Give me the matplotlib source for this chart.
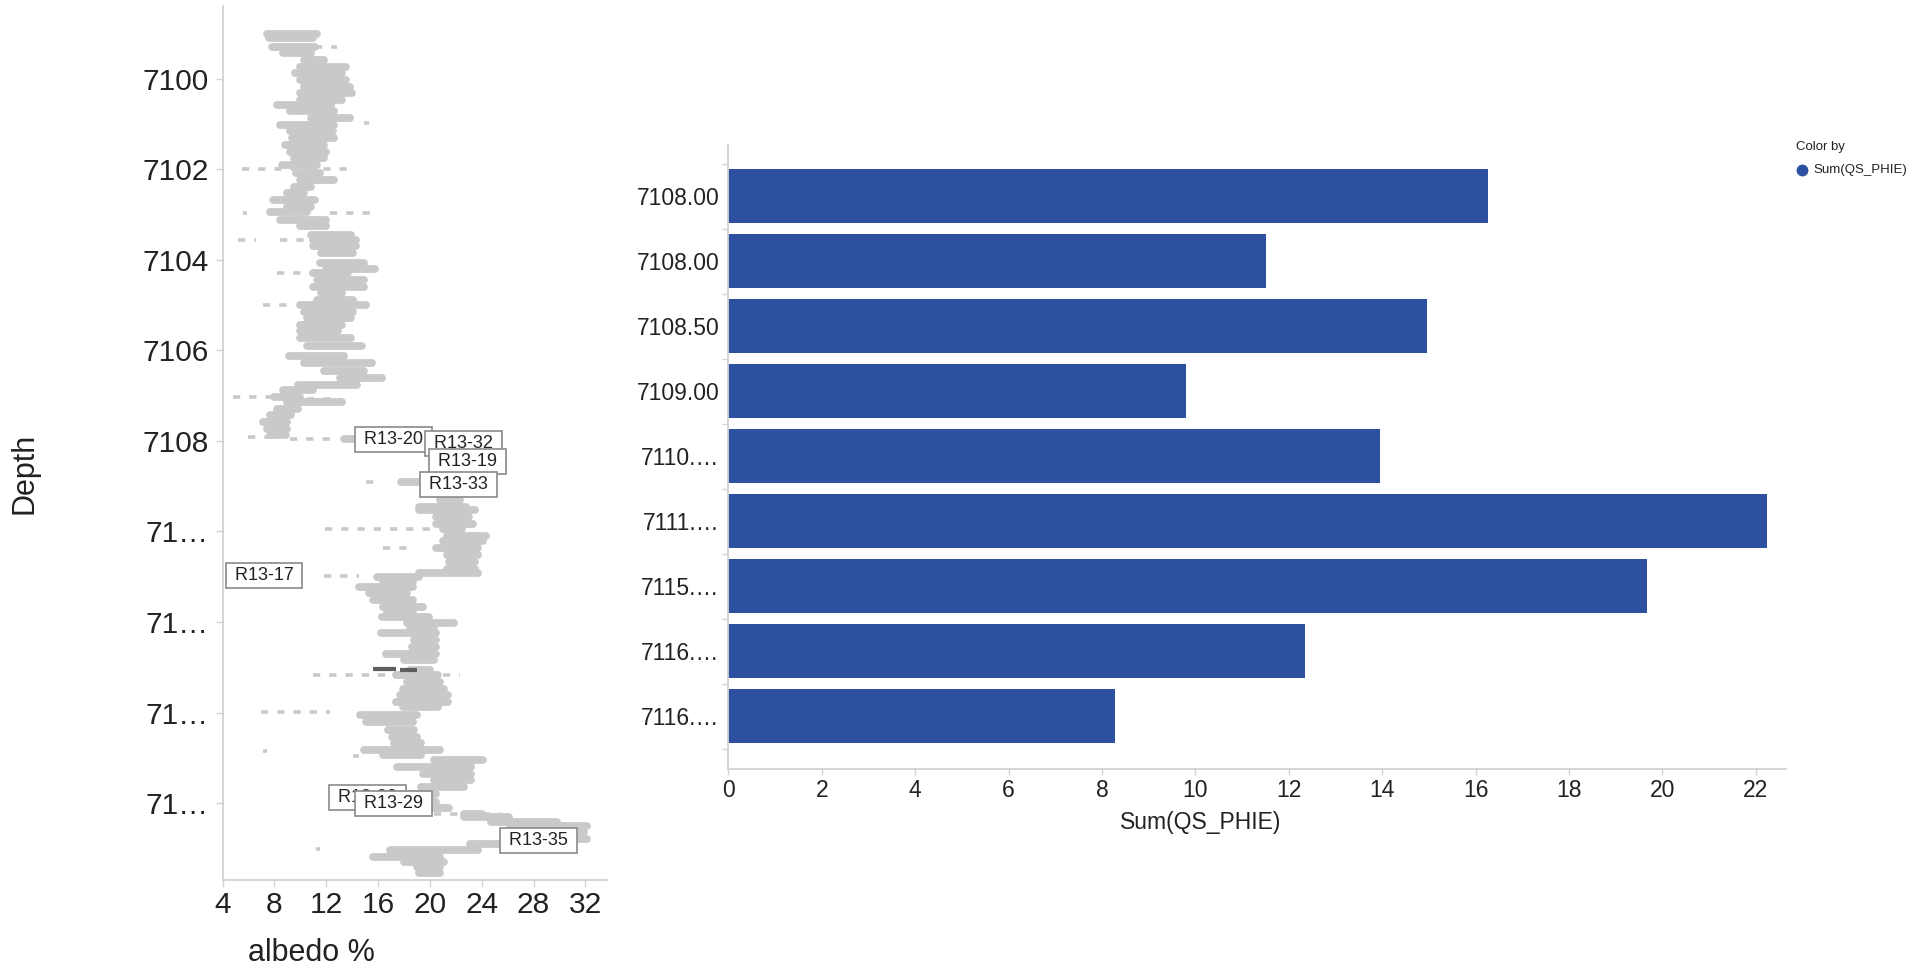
import numpy as np
import matplotlib.pyplot as plt
from matplotlib.lines import Line2D

plt.rcParams['font.family'] = ['Liberation Sans', 'DejaVu Sans']

# albedo log: depth, min and max albedo of each streak of points
log_depth = [7099.00, 7099.10, 7099.30, 7099.43, 7099.58, 7099.73, 7099.88, 7100.02, 7100.17, 7100.32,
             7100.46, 7100.57, 7100.72, 7100.87, 7101.02, 7101.16, 7101.31, 7101.46, 7101.61, 7101.75,
             7101.90, 7102.08, 7102.23, 7102.38, 7102.52, 7102.67, 7102.82, 7102.95, 7103.11, 7103.26,
             7103.44, 7103.56, 7103.70, 7103.85, 7104.06, 7104.19, 7104.30, 7104.45, 7104.60, 7104.74,
             7104.89, 7105.00, 7105.14, 7105.29, 7105.44, 7105.58, 7105.73, 7105.91, 7106.13, 7106.28,
             7106.46, 7106.61, 7106.76, 7106.87, 7107.02, 7107.14, 7107.29, 7107.43, 7107.58, 7107.73,
             7107.87, 7107.95, 7108.90, 7109.30, 7109.45, 7109.53, 7109.68, 7109.83, 7109.94, 7110.09,
             7110.20, 7110.36, 7110.53, 7110.68, 7110.83, 7110.92, 7111.00, 7111.11, 7111.22, 7111.37,
             7111.52, 7111.66, 7111.77, 7111.89, 7112.02, 7112.14, 7112.24, 7112.40, 7112.55, 7112.70,
             7112.85, 7113.05, 7113.17, 7113.32, 7113.47, 7113.61, 7113.76, 7113.87, 7114.06, 7114.20,
             7114.39, 7114.54, 7114.68, 7114.83, 7114.94, 7115.05, 7115.20, 7115.35, 7115.50, 7115.64,
             7115.79, 7115.98, 7116.12, 7116.24, 7116.31, 7116.42, 7116.50, 7116.64, 7116.79, 7116.90,
             7117.04, 7117.19, 7117.30, 7117.41, 7117.55]
log_lo = [7.4, 7.6, 7.8, 8.7, 10.3, 10.0, 9.6, 10.0, 10.3, 10.0,
          10.0, 8.2, 9.2, 10.8, 8.4, 9.2, 9.4, 8.8, 9.2, 9.5,
          8.6, 9.7, 10.0, 9.5, 9.0, 7.9, 9.0, 7.7, 8.4, 10.0,
          10.8, 11.0, 11.0, 11.6, 11.5, 12.0, 11.0, 11.3, 11.0, 11.6,
          11.3, 10.0, 10.3, 10.5, 10.0, 10.0, 10.0, 10.5, 9.1, 10.3,
          11.8, 13.1, 9.8, 8.7, 8.0, 9.0, 8.2, 7.7, 7.1, 7.4,
          7.7, 13.4, 17.8, 20.8, 19.2, 19.2, 20.5, 20.5, 21.0, 21.3,
          21.0, 20.5, 21.3, 21.5, 21.3, 19.2, 15.9, 16.4, 14.5, 15.3,
          15.6, 16.4, 16.7, 16.3, 18.2, 18.5, 16.2, 18.8, 18.6, 16.6,
          18.0, 18.5, 17.4, 18.2, 17.9, 17.7, 17.4, 17.9, 14.6, 15.1,
          16.8, 17.1, 17.2, 14.9, 16.4, 20.3, 17.5, 19.5, 20.3, 19.3,
          18.5, 19.0, 20.0, 22.6, 22.6, 24.7, 26.2, 29.8, 29.8, 23.1,
          16.9, 15.6, 18.0, 19.0, 19.2]
log_hi = [11.3, 11.0, 11.1, 10.8, 11.8, 13.5, 13.2, 13.5, 13.8, 14.0,
          13.2, 12.4, 12.6, 13.8, 12.6, 12.5, 12.6, 11.8, 12.0, 11.8,
          11.3, 11.5, 12.6, 10.8, 10.3, 11.1, 10.8, 10.5, 12.0, 12.0,
          13.9, 14.3, 14.3, 14.1, 14.9, 15.8, 13.7, 14.9, 14.9, 13.2,
          14.1, 15.1, 14.1, 13.9, 13.2, 12.9, 13.9, 14.8, 13.4, 15.5,
          14.9, 16.3, 14.4, 11.0, 10.0, 13.2, 9.8, 9.3, 9.0, 9.0,
          8.9, 14.2, 19.4, 22.3, 22.8, 23.5, 23.0, 23.3, 22.5, 24.3,
          24.1, 23.7, 23.7, 23.5, 23.5, 23.7, 19.2, 18.7, 18.7, 18.2,
          18.7, 19.5, 18.7, 19.9, 21.9, 20.3, 20.5, 20.5, 20.5, 20.5,
          20.3, 20.0, 20.6, 20.8, 21.1, 21.4, 21.4, 20.6, 19.0, 18.7,
          18.8, 19.0, 19.3, 20.8, 19.3, 24.1, 23.2, 23.2, 23.2, 22.6,
          20.5, 20.5, 21.5, 24.0, 26.1, 29.8, 32.1, 31.9, 32.1, 26.1,
          23.7, 20.8, 21.1, 20.8, 20.8]

# scattered single readings away from the main trace
stray_depth = [7099.30, 7100.98, 7101.99, 7102.97, 7102.97, 7103.56, 7103.56, 7104.30, 7105.00, 7107.02,
               7107.08, 7107.92, 7107.95, 7108.90, 7109.95, 7110.36, 7110.98, 7113.17, 7113.98, 7114.85,
               7114.97, 7116.24, 7117.02, 7117.02]
stray_lo = [11.1, 14.9, 5.5, 5.6, 12.3, 5.2, 8.4, 8.2, 7.1, 4.8,
            10.5, 6.0, 9.2, 15.1, 11.9, 16.4, 11.8, 11.0, 7.0, 7.1,
            14.1, 20.3, 11.2, 17.8]
stray_hi = [12.8, 15.3, 14.0, 5.9, 15.5, 6.6, 11.5, 11.0, 9.4, 7.9,
            13.1, 7.8, 12.5, 16.1, 20.0, 18.7, 14.5, 22.3, 12.3, 7.4,
            14.5, 25.4, 11.5, 20.0]

# marked samples
marked_depth = [7113.03, 7113.05]
marked_lo = [15.6, 17.7]
marked_hi = [17.4, 19.0]

# sample labels: name, albedo, depth
sample_names = ["R13-17", "R13-30", "R13-29", "R13-20", "R13-32", "R13-19", "R13-33", "R13-35"]
sample_albedo = [7.2, 15.2, 17.2, 17.2, 22.6, 22.9, 22.2, 28.4]
sample_depth = [7110.98, 7115.88, 7116.02, 7107.97, 7108.06, 7108.45, 7108.97, 7116.82]

depth_ticks = [7100, 7102, 7104, 7106, 7108, 7110, 7112, 7114, 7116]
depth_ticklabels = ["7100", "7102", "7104", "7106", "7108", "71…", "71…", "71…", "71…"]

# bar chart
bar_labels = ["7108.00", "7108.00", "7108.50", "7109.00", "7110.…", "7111.…", "7115.…", "7116.…", "7116.…"]
bar_values = [16.27, 11.52, 14.95, 9.79, 13.95, 22.25, 19.66, 12.35, 8.29]

W, H = 1928, 969
fig = plt.figure(figsize=(W / 100, H / 100), dpi=100)
axis_grey = "#d2d2d2"
text_col = "#222222"
dot_grey = "#c8c9cb"

# ---- albedo log ----
ax1 = fig.add_axes([222.5 / W, 1 - 880 / H, (607 - 222.5) / W, (880 - 6) / H])
ax1.hlines(stray_depth, stray_lo, stray_hi, colors=dot_grey, linewidth=2.6, linestyles=(0, (2, 2.5)))
trace = ax1.hlines(log_depth, log_lo, log_hi, colors=dot_grey, linewidth=5.6)
trace.set_capstyle("round")
ax1.hlines(marked_depth, marked_lo, marked_hi, colors="#5e5e5e", linewidth=3.0)
ax1.set_xlim(4, 33.67)
ax1.set_ylim(7117.70, 7098.39)
ax1.set_xticks(np.arange(4, 33, 4))
ax1.set_yticks(depth_ticks)
ax1.set_yticklabels(depth_ticklabels)
for s in ["top", "right"]:
    ax1.spines[s].set_visible(False)
for s in ["left", "bottom"]:
    ax1.spines[s].set_color(axis_grey)
    ax1.spines[s].set_linewidth(1.3)
ax1.tick_params(axis="both", colors=axis_grey, labelcolor=text_col, length=5, width=1)
ax1.tick_params(axis="y", labelsize=21.5, pad=5)
ax1.tick_params(axis="x", labelsize=21.5, pad=3)

for name, x, y in zip(sample_names, sample_albedo, sample_depth):
    ax1.text(x, y, " " + name + " ", ha="center", va="center", fontsize=13, color=text_col,
             bbox=dict(boxstyle="square,pad=0.22", fc="white", ec="#8a8a8a", lw=1.2), clip_on=False)

fig.text(25 / W, 1 - 473 / H, "Depth", rotation=90, ha="center", va="center", fontsize=22, color=text_col)
fig.text(311 / W, 1 - 953 / H, "albedo %", ha="center", va="center", fontsize=22, color=text_col)

# ---- Sum(QS_PHIE) by depth ----
ax2 = fig.add_axes([728.3 / W, 1 - 769 / H, (1785.7 - 728.3) / W, (769 - 145) / H])
pos = np.arange(len(bar_values))
ax2.barh(pos, bar_values, height=0.83, color="#2d50a0")
ax2.set_xlim(0, 22.64)
ax2.set_ylim(8.81, -0.79)
ax2.set_xticks(np.arange(0, 23, 2))
ax2.set_yticks(pos)
ax2.set_yticklabels(bar_labels)
ax2.set_yticks(np.arange(-0.5, 9, 1), minor=True)
for s in ["top", "right"]:
    ax2.spines[s].set_visible(False)
for s in ["left", "bottom"]:
    ax2.spines[s].set_color(axis_grey)
    ax2.spines[s].set_linewidth(1.3)
ax2.tick_params(axis="y", which="major", length=0, labelsize=16.5, labelcolor=text_col, pad=6.5)
ax2.tick_params(axis="y", which="minor", length=4, color=axis_grey, width=1)
ax2.tick_params(axis="x", length=4, color=axis_grey, width=1, labelsize=16.5, labelcolor=text_col, pad=3)

fig.text(1201 / W, 1 - 823 / H, "Sum(QS_PHIE)", ha="center", va="center", fontsize=16.5, color=text_col)

# legend
fig.text(1796 / W, 1 - 147 / H, "Color by", ha="left", va="center", fontsize=9.5, color=text_col)
fig.add_artist(Line2D([1802 / W], [1 - 170 / H], marker="o", markersize=7.5, color="#2d50a0",
                      transform=fig.transFigure))
fig.text(1813 / W, 1 - 170 / H, "Sum(QS_PHIE)", ha="left", va="center", fontsize=9.5, color=text_col)

fig.savefig("out.png", dpi=100, facecolor="white")
